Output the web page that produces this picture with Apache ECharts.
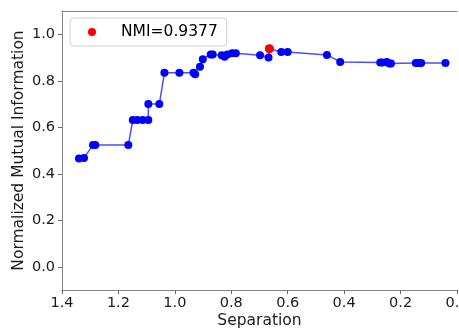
<!DOCTYPE html>
<html>
<head>
<meta charset="utf-8">
<script src="https://cdn.jsdelivr.net/npm/echarts@6/dist/echarts.min.js"></script>
<style>html,body{margin:0;padding:0;background:#fff;}#c{width:459px;height:330px;}</style>
</head>
<body>
<div id="c"></div>
<script>
// Separation values (x) and NMI values (y) along the curve
const separation = [1.340, 1.322, 1.290, 1.282, 1.165, 1.149, 1.133, 1.114, 1.094, 1.094, 1.055, 1.037, 0.984, 0.934, 0.928, 0.911, 0.901, 0.873, 0.866, 0.834, 0.824, 0.814, 0.797, 0.784, 0.698, 0.668, 0.665, 0.623, 0.600, 0.461, 0.414, 0.272, 0.264, 0.249, 0.240, 0.234, 0.146, 0.137, 0.127, 0.041];
const nmi = [0.466, 0.468, 0.524, 0.524, 0.524, 0.631, 0.631, 0.631, 0.631, 0.700, 0.700, 0.834, 0.834, 0.834, 0.828, 0.860, 0.893, 0.913, 0.913, 0.910, 0.903, 0.913, 0.918, 0.918, 0.910, 0.900, 0.9377, 0.924, 0.924, 0.911, 0.881, 0.878, 0.878, 0.881, 0.874, 0.874, 0.876, 0.876, 0.876, 0.876];
const bestSeparation = [0.665];
const bestNmi = [0.9377];
const bestLabel = 'NMI=0.9377';
const xTicks = [0, 0.2, 0.4, 0.6, 0.8, 1.0, 1.2, 1.4];
const yTicks = [0, 0.2, 0.4, 0.6, 0.8, 1.0];

const font = 'DejaVu Sans';
const chart = echarts.init(document.getElementById('c'), null, {renderer: 'canvas'});
const lineData = separation.map((x, i) => [x, nmi[i]]);
const bestData = bestSeparation.map((x, i) => [x, bestNmi[i]]);

chart.setOption({
  animation: false,
  backgroundColor: '#fff',
  grid: {left: 62, top: 11, width: 395, bottom: 40, show: false, containLabel: false, outerBoundsMode: 'none'},
  legend: {
    data: [bestLabel],
    left: 70, top: 18,
    padding: [6, 9, 6, 18],
    itemWidth: 28, itemHeight: 8,
    itemGap: 0,
    borderColor: '#d0d0d0', borderWidth: 1, borderRadius: 4,
    backgroundColor: 'rgba(255,255,255,0.8)',
    itemStyle: {opacity: 1},
    textStyle: {fontFamily: font, fontSize: 15.5, lineHeight: 16, color: '#000', padding: [0, 0, 0, 10]}
  },
  xAxis: [{
    type: 'value', min: 0, max: 1.4, inverse: true,
    axisLabel: {customValues: xTicks, formatter: v => v.toFixed(1), fontFamily: font, fontSize: 14.5, color: '#1a1a1a', margin: 6},
    axisTick: {customValues: xTicks, length: 4, lineStyle: {color: '#666'}},
    axisLine: {show: true, onZero: false, lineStyle: {color: '#888', width: 1}},
    splitLine: {show: false},
    name: 'Separation', nameLocation: 'middle', nameGap: 23, nameMoveOverlap: false,
    nameTextStyle: {fontFamily: font, fontSize: 15.5, color: '#1a1a1a'}
  }, {
    type: 'value', min: 0, max: 1.4, inverse: true, position: 'top',
    axisLabel: {show: false}, axisTick: {show: false}, splitLine: {show: false},
    axisLine: {show: true, onZero: false, lineStyle: {color: '#888', width: 1}}
  }],
  yAxis: {
    type: 'value', min: -0.1, max: 1.1,
    axisLabel: {customValues: yTicks, formatter: v => v.toFixed(1), fontFamily: font, fontSize: 14.5, color: '#1a1a1a', margin: 7},
    axisTick: {show: true, customValues: yTicks, length: 4, lineStyle: {color: '#666'}},
    axisLine: {show: true, onZero: false, lineStyle: {color: '#888', width: 1}},
    splitLine: {show: false},
    name: 'Normalized Mutual Information', nameLocation: 'middle', nameGap: 35, nameMoveOverlap: false,
    nameTextStyle: {fontFamily: font, fontSize: 15.5, color: '#1a1a1a'}
  },
  series: [{
    type: 'line', data: lineData, xAxisIndex: 0,
    symbol: 'circle', symbolSize: 8, showSymbol: true,
    itemStyle: {color: '#0000ff', opacity: 1},
    lineStyle: {color: '#0000ff', width: 1.5, opacity: 0.7},
    z: 2
  }, {
    type: 'scatter', name: bestLabel, data: bestData, xAxisIndex: 0,
    symbol: 'circle', symbolSize: 9,
    itemStyle: {color: '#ff0000', opacity: 1},
    z: 3
  }]
});
</script>
</body>
</html>
